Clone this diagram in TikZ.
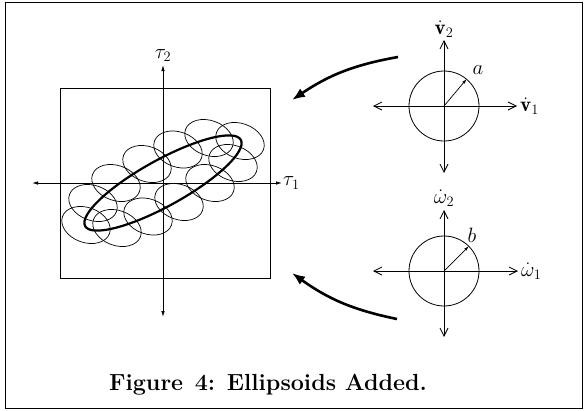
\documentclass[tikz,border=0pt]{standalone}
\usepackage{fontspec}
\usepackage{amsmath,amssymb}
\usepackage{xcolor}
\usetikzlibrary{arrows.meta,calc}

\begin{document}
\begin{tikzpicture}[x=1pt,y=1pt,
  lbl/.style={font=\fontsize{21}{24}\selectfont},
  plotaxis/.style={line width=0.8pt,{Latex[length=6pt,width=3.5pt]}-{Latex[length=6pt,width=3.5pt]}},
  circaxis/.style={line width=0.8pt,{Straight Barb[length=8pt,width=8pt]}-{Straight Barb[length=8pt,width=8pt]}},
  bigarrow/.style={line width=2.6pt,-{Latex[length=13pt,width=10pt]}},
  smallell/.style={line width=0.7pt}]
\useasboundingbox (0,0) rectangle (585,-410);
\draw[line width=1pt] (5,-2) rectangle (582,-408);
% left plot
\draw[line width=0.9pt] (60,-88) rectangle (270,-278);
\coordinate (O) at (163,-183);
\foreach \dx/\dy in {-77/-42,-70/-20,-46/-45,-47/0,-16/19,-15/-33.5,77/42,70/20,46/45,47/0,16/-19,15/33.5}
  \draw[smallell] ($(O)+(\dx,\dy)$) ellipse[x radius=25,y radius=17.5,rotate=-20];
\draw[line width=2.2pt] (O) ellipse[x radius=89,y radius=23,rotate=29];
\coordinate (tl) at (32,-183);
\coordinate (tr) at (282,-183);
\coordinate (tb) at (163,-317);
\coordinate (tt) at (163,-65);
\draw[plotaxis] (tl) -- (tr);
\draw[plotaxis] (tb) -- (tt);
\node[lbl,anchor=west,inner sep=1pt] (tau1) at (tr) {$\tau_1$};
\node[lbl,anchor=south,inner sep=2pt] (tau2) at (163,-64) {$\tau_2$};
% upper circle
\node[circle,draw,line width=0.8pt,minimum size=70pt,inner sep=0pt] (vcirc) at (444,-106) {};
\draw[circaxis] (373,-106) coordinate (vl) -- (517,-106) coordinate (vr);
\draw[circaxis] (444,-173) coordinate (vb) -- (444,-40) coordinate (vt);
\draw[line width=0.7pt,-{Latex[length=5pt,width=3pt]}] (vcirc.center) -- (vcirc.50);
\node[lbl,anchor=west,inner sep=3pt] (v1) at (vr) {$\dot{\mathbf{v}}_1$};
\node[lbl,anchor=south,inner sep=2pt] (v2) at (vt) {$\dot{\mathbf{v}}_2$};
\node[lbl] (a) at (478,-70) {$a$};
% lower circle
\node[circle,draw,line width=0.8pt,minimum size=70pt,inner sep=0pt] (wcirc) at (444,-271) {};
\draw[circaxis] (373,-271) coordinate (wl) -- (518,-271) coordinate (wr);
\draw[circaxis] (444,-337) coordinate (wb) -- (444,-210) coordinate (wt);
\draw[line width=0.7pt,-{Latex[length=5pt,width=3pt]}] (wcirc.center) -- (wcirc.45);
\node[lbl,anchor=west,inner sep=3pt] (w1) at (wr) {$\dot{\omega}_1$};
\node[lbl,anchor=south,inner sep=3pt] (w2) at (wt) {$\dot{\omega}_2$};
\node[lbl] (b) at (472,-235) {$b$};
% thick arrows
\coordinate (vfrom) at (398,-57);
\coordinate (vto) at (292,-100);
\coordinate (wfrom) at (397,-319);
\coordinate (wto) at (292,-273);
\draw[bigarrow] (vfrom) to[bend right=12] (vto);
\draw[bigarrow] (wfrom) to[bend left=12] (wto);
% caption
\node[font=\fontsize{23.3}{27}\selectfont\bfseries] (cap) at (268,-385) {Figure\enspace 4: Ellipsoids Added.};
\end{tikzpicture}
\end{document}
